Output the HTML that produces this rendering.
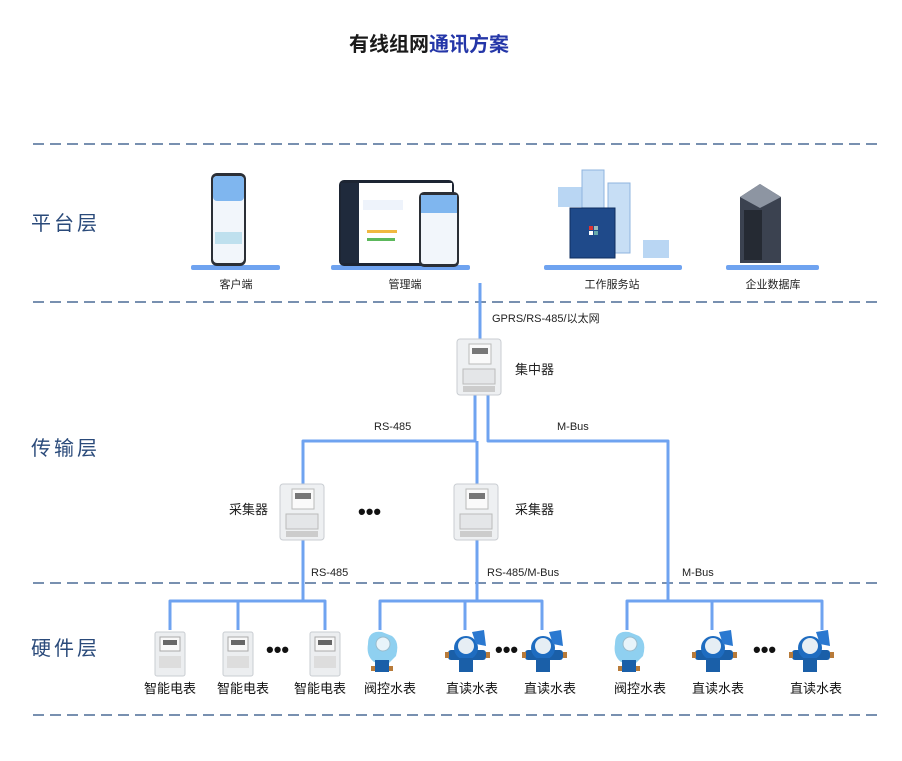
<!DOCTYPE html>
<html><head><meta charset="utf-8"><style>
html,body{margin:0;padding:0;background:#fff;width:902px;height:761px;overflow:hidden}
svg{display:block;font-family:"Liberation Sans","Noto Sans CJK SC",sans-serif}
</style></head><body>
<svg width="902" height="761" viewBox="0 0 902 761">
<defs>
<g id="meter">
  <rect x="0" y="0" width="44" height="56" rx="3" fill="#eef0f2" stroke="#c9cdd2"/>
  <rect x="12" y="5" width="22" height="20" fill="#fafafa" stroke="#bbb"/>
  <rect x="15" y="9" width="16" height="6" fill="#777"/>
  <rect x="6" y="30" width="32" height="15" fill="#e4e6e8" stroke="#bbb"/>
  <rect x="6" y="47" width="32" height="6" fill="#ccc"/>
</g>
<g id="emeter">
  <rect x="0" y="0" width="30" height="44" rx="2" fill="#eceef0" stroke="#c9cdd2"/>
  <rect x="5" y="5" width="20" height="14" fill="#f8f8f8" stroke="#aaa"/>
  <rect x="8" y="8" width="14" height="5" fill="#666"/>
  <rect x="4" y="24" width="22" height="12" fill="#ddd"/>
</g>
<g id="vwater">
  <path d="M2 14 Q2 0 16 2 L26 6 Q34 12 30 26 L22 34 L8 32 Q0 26 2 14Z" fill="#8fd0f0"/>
  <circle cx="17" cy="14" r="7" fill="#e8f4fa" stroke="#9bc"/>
  <rect x="9" y="30" width="14" height="12" fill="#1a5fa8"/>
  <rect x="5" y="36" width="4" height="5" fill="#b87b3a"/><rect x="23" y="36" width="4" height="5" fill="#b87b3a"/>
</g>
<g id="dwater">
  <rect x="-2" y="20" width="38" height="10" rx="3" fill="#1a5fa8"/>
  <circle cx="16" cy="18" r="12" fill="#1e6cc0"/>
  <circle cx="16" cy="16" r="8" fill="#e6eef4"/>
  <path d="M22 2 L34 0 L36 16 L26 14Z" fill="#2a78d0"/>
  <rect x="9" y="28" width="14" height="14" fill="#1a5fa8"/>
  <rect x="-5" y="22" width="4" height="6" fill="#b87b3a"/><rect x="36" y="22" width="4" height="6" fill="#b87b3a"/>
</g>
</defs>

<text x="349" y="51" font-size="20" font-weight="bold" fill="#1a1a1a">有线组网<tspan fill="#2436a8">通讯方案</tspan></text>

<g stroke="#7890b0" stroke-width="2" stroke-dasharray="11,6">
<line x1="33" y1="144" x2="877" y2="144"/>
<line x1="33" y1="302" x2="877" y2="302"/>
<line x1="33" y1="583" x2="877" y2="583"/>
<line x1="33" y1="715" x2="877" y2="715"/>
</g>

<g font-size="20" fill="#2a4a7a" letter-spacing="3">
<text x="31" y="230">平台层</text>
<text x="31" y="455">传输层</text>
<text x="31" y="655">硬件层</text>
</g>

<g fill="#6fa3f0">
<rect x="191" y="265" width="89" height="5" rx="2"/>
<rect x="331" y="265" width="139" height="5" rx="2"/>
<rect x="544" y="265" width="138" height="5" rx="2"/>
<rect x="726" y="265" width="93" height="5" rx="2"/>
</g>
<rect x="211" y="173" width="35" height="93" rx="6" fill="#2b2f36"/>
<rect x="213" y="176" width="31" height="87" rx="4" fill="#f2f6fb"/>
<rect x="213" y="176" width="31" height="25" rx="4" fill="#7fb6ef"/>
<rect x="215" y="232" width="27" height="12" fill="#bfe0ee"/>
<rect x="339" y="180" width="115" height="86" rx="5" fill="#1d2533"/>
<rect x="341" y="183" width="111" height="80" fill="#fff"/>
<rect x="341" y="183" width="18" height="80" fill="#1f2a3c"/>
<rect x="363" y="200" width="40" height="10" fill="#eef3fb"/>
<rect x="367" y="230" width="30" height="3" fill="#f0b840"/>
<rect x="367" y="238" width="28" height="3" fill="#5cb85c"/>
<rect x="419" y="192" width="40" height="75" rx="5" fill="#2b2f36"/>
<rect x="421" y="195" width="36" height="69" rx="3" fill="#f2f6fb"/>
<rect x="421" y="195" width="36" height="18" fill="#7fb6ef"/>
<g>
<rect x="558" y="187" width="35" height="20" fill="#b9d6f3"/>
<rect x="582" y="170" width="22" height="70" fill="#c7def5" stroke="#8fb4df"/>
<rect x="608" y="183" width="22" height="70" fill="#c7def5" stroke="#8fb4df"/>
<rect x="570" y="208" width="45" height="50" fill="#1f4a8a" stroke="#0f2f60"/>
<rect x="589" y="226" width="4" height="4" fill="#d33"/><rect x="594" y="226" width="4" height="4" fill="#9bb"/>
<rect x="589" y="231" width="4" height="4" fill="#fff"/><rect x="594" y="231" width="4" height="4" fill="#6aa"/>
<rect x="643" y="240" width="26" height="18" fill="#b9d6f3"/>
</g>
<path d="M740 197 L760 184 L781 197 L781 263 L740 263Z" fill="#3b4250"/>
<path d="M740 197 L760 184 L781 197 L760 208Z" fill="#8d95a2"/>
<rect x="744" y="210" width="18" height="50" fill="#252a33"/>
<g font-size="11" fill="#222" text-anchor="middle">
<text x="236" y="288">客户端</text>
<text x="405" y="288">管理端</text>
<text x="612" y="288">工作服务站</text>
<text x="773" y="288">企业数据库</text>
</g>

<g stroke="#6fa3f0" stroke-width="3" fill="none" stroke-linejoin="round">
<line x1="480" y1="283" x2="480" y2="340"/>
<path d="M475 394 L475 441 L303 441 L303 485"/>
<line x1="477" y1="441" x2="477" y2="485"/>
<path d="M488 394 L488 441 L668 441 L668 600"/>
<line x1="303" y1="538" x2="303" y2="601"/>
<line x1="477" y1="538" x2="477" y2="601"/>
<path d="M170 630 L170 601 L325 601 L325 630"/>
<line x1="238" y1="601" x2="238" y2="630"/>
<path d="M380 630 L380 601 L542 601 L542 630"/>
<line x1="465" y1="601" x2="465" y2="630"/>
<path d="M627 630 L627 601 L822 601 L822 630"/>
<line x1="712" y1="601" x2="712" y2="630"/>
</g>

<g font-size="11" fill="#222">
<text x="492" y="322">GPRS/RS-485/以太网</text>
<text x="374" y="430">RS-485</text>
<text x="557" y="430">M-Bus</text>
<text x="311" y="576">RS-485</text>
<text x="487" y="576">RS-485/M-Bus</text>
<text x="682" y="576">M-Bus</text>
</g>
<g font-size="13" fill="#222">
<text x="515" y="374">集中器</text>
<text x="229" y="514">采集器</text>
<text x="515" y="514">采集器</text>
</g>

<use href="#meter" x="457" y="339"/>
<use href="#meter" x="280" y="484"/>
<use href="#meter" x="454" y="484"/>

<g font-size="22" fill="#111" font-weight="bold">
<text x="358" y="519">•••</text>
<text x="266" y="657">•••</text>
<text x="495" y="657">•••</text>
<text x="753" y="657">•••</text>
</g>

<use href="#emeter" x="155" y="632"/>
<use href="#emeter" x="223" y="632"/>
<use href="#emeter" x="310" y="632"/>
<use href="#vwater" x="366" y="630"/>
<use href="#dwater" x="450" y="630"/>
<use href="#dwater" x="527" y="630"/>
<use href="#vwater" x="613" y="630"/>
<use href="#dwater" x="697" y="630"/>
<use href="#dwater" x="794" y="630"/>

<g font-size="13" fill="#111" text-anchor="middle">
<text x="170" y="693">智能电表</text>
<text x="243" y="693">智能电表</text>
<text x="320" y="693">智能电表</text>
<text x="390" y="693">阀控水表</text>
<text x="472" y="693">直读水表</text>
<text x="550" y="693">直读水表</text>
<text x="640" y="693">阀控水表</text>
<text x="718" y="693">直读水表</text>
<text x="816" y="693">直读水表</text>
</g>
</svg>
</body></html>
